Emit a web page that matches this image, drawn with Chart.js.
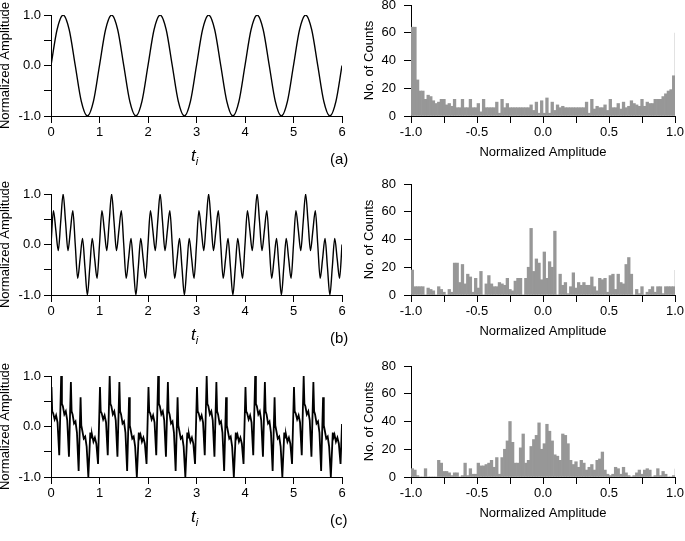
<!DOCTYPE html>
<html lang="en">
<head>
<meta charset="UTF-8">
<title>Signals and amplitude histograms</title>
<style>
  html, body { margin: 0; padding: 0; width: 685px; height: 541px; overflow: hidden; background: #fff; }
  canvas { position: absolute; }
  .lbl { position: absolute; font-family: 'Liberation Sans', Arial, sans-serif; color: #000; white-space: nowrap; }
  .ti { font-size: 17px; font-style: italic; }
  .ti sub { font-size: 11px; }
  .tag { font-size: 15px; }
</style>
</head>
<body>
<canvas id="sigA"></canvas>
<canvas id="histA"></canvas>
<canvas id="sigB"></canvas>
<canvas id="histB"></canvas>
<canvas id="sigC"></canvas>
<canvas id="histC"></canvas>

<div class="lbl ti" style="left:191px;top:146px">t<sub>i</sub></div>
<div class="lbl ti" style="left:191px;top:325px">t<sub>i</sub></div>
<div class="lbl ti" style="left:191px;top:507px">t<sub>i</sub></div>
<div class="lbl tag" style="left:330px;top:150px">(a)</div>
<div class="lbl tag" style="left:330px;top:329px">(b)</div>
<div class="lbl tag" style="left:330px;top:511px">(c)</div>

<script src="https://cdn.jsdelivr.net/npm/chart.js@4/dist/chart.umd.min.js"></script>
<script>
    // ---- (a) pure sine ----
    const tA = [0, 0.125, 0.25, 0.375, 0.5, 0.625, 0.75, 0.875,
        1, 1.125, 1.25, 1.375, 1.5, 1.625, 1.75, 1.875,
        2, 2.125, 2.25, 2.375, 2.5, 2.625, 2.75, 2.875,
        3, 3.125, 3.25, 3.375, 3.5, 3.625, 3.75, 3.875,
        4, 4.125, 4.25, 4.375, 4.5, 4.625, 4.75, 4.875,
        5, 5.125, 5.25, 5.375, 5.5, 5.625, 5.75, 5.875,
        6];
    const ampA = [0, 0.71, 1, 0.71, 0, -0.71, -1, -0.71,
        0, 0.71, 1, 0.71, 0, -0.71, -1, -0.71,
        0, 0.71, 1, 0.71, 0, -0.71, -1, -0.71,
        0, 0.71, 1, 0.71, 0, -0.71, -1, -0.71,
        0, 0.71, 1, 0.71, 0, -0.71, -1, -0.71,
        0, 0.71, 1, 0.71, 0, -0.71, -1, -0.71,
        0];

    // ---- (b) two tones ----
    const tB = [0, 0.05, 0.1, 0.15, 0.2, 0.25, 0.3, 0.35, 0.4, 0.45, 0.5, 0.55, 0.6, 0.65, 0.7, 0.75, 0.8, 0.85, 0.9, 0.95,
        1, 1.05, 1.1, 1.15, 1.2, 1.25, 1.3, 1.35, 1.4, 1.45, 1.5, 1.55, 1.6, 1.65, 1.7, 1.75, 1.8, 1.85, 1.9, 1.95,
        2, 2.05, 2.1, 2.15, 2.2, 2.25, 2.3, 2.35, 2.4, 2.45, 2.5, 2.55, 2.6, 2.65, 2.7, 2.75, 2.8, 2.85, 2.9, 2.95,
        3, 3.05, 3.1, 3.15, 3.2, 3.25, 3.3, 3.35, 3.4, 3.45, 3.5, 3.55, 3.6, 3.65, 3.7, 3.75, 3.8, 3.85, 3.9, 3.95,
        4, 4.05, 4.1, 4.15, 4.2, 4.25, 4.3, 4.35, 4.4, 4.45, 4.5, 4.55, 4.6, 4.65, 4.7, 4.75, 4.8, 4.85, 4.9, 4.95,
        5, 5.05, 5.1, 5.15, 5.2, 5.25, 5.3, 5.35, 5.4, 5.45, 5.5, 5.55, 5.6, 5.65, 5.7, 5.75, 5.8, 5.85, 5.9, 5.95,
        6];
    const ampB = [0, 0.67, 0.28, -0.12, 0.45, 1, 0.45, -0.12, 0.28, 0.67, 0, -0.67, -0.28, 0.12, -0.45, -1, -0.45, 0.12, -0.28, -0.67,
        0, 0.67, 0.28, -0.12, 0.45, 1, 0.45, -0.12, 0.28, 0.67, 0, -0.67, -0.28, 0.12, -0.45, -1, -0.45, 0.12, -0.28, -0.67,
        0, 0.67, 0.28, -0.12, 0.45, 1, 0.45, -0.12, 0.28, 0.67, 0, -0.67, -0.28, 0.12, -0.45, -1, -0.45, 0.12, -0.28, -0.67,
        0, 0.67, 0.28, -0.12, 0.45, 1, 0.45, -0.12, 0.28, 0.67, 0, -0.67, -0.28, 0.12, -0.45, -1, -0.45, 0.12, -0.28, -0.67,
        0, 0.67, 0.28, -0.12, 0.45, 1, 0.45, -0.12, 0.28, 0.67, 0, -0.67, -0.28, 0.12, -0.45, -1, -0.45, 0.12, -0.28, -0.67,
        0, 0.67, 0.28, -0.12, 0.45, 1, 0.45, -0.12, 0.28, 0.67, 0, -0.67, -0.28, 0.12, -0.45, -1, -0.45, 0.12, -0.28, -0.67,
        0];

    // ---- (c) spiky signal ----
    const tC = [0,
        0.01, 0.025, 0.045, 0.075, 0.105, 0.135, 0.17, 0.21, 0.225, 0.245, 0.275, 0.305, 0.335, 0.37, 0.41, 0.425, 0.445, 0.475, 0.505, 0.535, 0.57, 0.61, 0.625, 0.645, 0.675, 0.705, 0.735, 0.77, 0.81, 0.825, 0.845, 0.875, 0.905, 0.935, 0.97,
        1.01, 1.025, 1.045, 1.075, 1.105, 1.135, 1.17, 1.21, 1.225, 1.245, 1.275, 1.305, 1.335, 1.37, 1.41, 1.425, 1.445, 1.475, 1.505, 1.535, 1.57, 1.61, 1.625, 1.645, 1.675, 1.705, 1.735, 1.77, 1.81, 1.825, 1.845, 1.875, 1.905, 1.935, 1.97,
        2.01, 2.025, 2.045, 2.075, 2.105, 2.135, 2.17, 2.21, 2.225, 2.245, 2.275, 2.305, 2.335, 2.37, 2.41, 2.425, 2.445, 2.475, 2.505, 2.535, 2.57, 2.61, 2.625, 2.645, 2.675, 2.705, 2.735, 2.77, 2.81, 2.825, 2.845, 2.875, 2.905, 2.935, 2.97,
        3.01, 3.025, 3.045, 3.075, 3.105, 3.135, 3.17, 3.21, 3.225, 3.245, 3.275, 3.305, 3.335, 3.37, 3.41, 3.425, 3.445, 3.475, 3.505, 3.535, 3.57, 3.61, 3.625, 3.645, 3.675, 3.705, 3.735, 3.77, 3.81, 3.825, 3.845, 3.875, 3.905, 3.935, 3.97,
        4.01, 4.025, 4.045, 4.075, 4.105, 4.135, 4.17, 4.21, 4.225, 4.245, 4.275, 4.305, 4.335, 4.37, 4.41, 4.425, 4.445, 4.475, 4.505, 4.535, 4.57, 4.61, 4.625, 4.645, 4.675, 4.705, 4.735, 4.77, 4.81, 4.825, 4.845, 4.875, 4.905, 4.935, 4.97,
        5.01, 5.025, 5.045, 5.075, 5.105, 5.135, 5.17, 5.21, 5.225, 5.245, 5.275, 5.305, 5.335, 5.37, 5.41, 5.425, 5.445, 5.475, 5.505, 5.535, 5.57, 5.61, 5.625, 5.645, 5.675, 5.705, 5.735, 5.77, 5.81, 5.825, 5.845, 5.875, 5.905, 5.935, 5.97,
        6];
    const ampC = [0.72,
        0.78, 0.30, 0.26, 0.14, 0.22, 0.08, -0.57, 1.0, 0.45, 0.40, 0.24, 0.30, 0.12, -0.60, 0.88, 0.30, 0.24, 0.06, 0.10, -0.12, -0.88, 0.58, 0.02, -0.08, -0.24, -0.20, -0.40, -1.0, -0.12, -0.22, -0.16, -0.30, -0.22, -0.34, -0.74,
        0.78, 0.30, 0.26, 0.14, 0.22, 0.08, -0.57, 1.0, 0.45, 0.40, 0.24, 0.30, 0.12, -0.60, 0.88, 0.30, 0.24, 0.06, 0.10, -0.12, -0.88, 0.58, 0.02, -0.08, -0.24, -0.20, -0.40, -1.0, -0.12, -0.22, -0.16, -0.30, -0.22, -0.34, -0.74,
        0.78, 0.30, 0.26, 0.14, 0.22, 0.08, -0.57, 1.0, 0.45, 0.40, 0.24, 0.30, 0.12, -0.60, 0.88, 0.30, 0.24, 0.06, 0.10, -0.12, -0.88, 0.58, 0.02, -0.08, -0.24, -0.20, -0.40, -1.0, -0.12, -0.22, -0.16, -0.30, -0.22, -0.34, -0.74,
        0.78, 0.30, 0.26, 0.14, 0.22, 0.08, -0.57, 1.0, 0.45, 0.40, 0.24, 0.30, 0.12, -0.60, 0.88, 0.30, 0.24, 0.06, 0.10, -0.12, -0.88, 0.58, 0.02, -0.08, -0.24, -0.20, -0.40, -1.0, -0.12, -0.22, -0.16, -0.30, -0.22, -0.34, -0.74,
        0.78, 0.30, 0.26, 0.14, 0.22, 0.08, -0.57, 1.0, 0.45, 0.40, 0.24, 0.30, 0.12, -0.60, 0.88, 0.30, 0.24, 0.06, 0.10, -0.12, -0.88, 0.58, 0.02, -0.08, -0.24, -0.20, -0.40, -1.0, -0.12, -0.22, -0.16, -0.30, -0.22, -0.34, -0.74,
        0.78, 0.30, 0.26, 0.14, 0.22, 0.08, -0.57, 1.0, 0.45, 0.40, 0.24, 0.30, 0.12, -0.60, 0.88, 0.30, 0.24, 0.06, 0.10, -0.12, -0.88, 0.58, 0.02, -0.08, -0.24, -0.20, -0.40, -1.0, -0.12, -0.22, -0.16, -0.30, -0.22, -0.34, -0.74,
        0.05];

    // ---- histograms: 100 bins of width 0.02 from -1 to 1 ----
    const binLo = -1;
    const binW = 0.02;
    const countsA = [64, 64, 26, 18, 18, 12, 15, 14, 11, 9, 10, 12, 12, 8, 9, 7, 12, 6, 6, 12,
        6, 6, 12, 6, 6, 9, 3, 12, 6, 6, 6, 6, 10, 2, 12, 6, 9, 6, 6, 6,
        6, 6, 6, 6, 6, 8, 4, 10, 2, 11, 2, 13, 2, 10, 4, 8, 6, 7, 6, 6,
        6, 6, 6, 6, 6, 6, 10, 2, 12, 5, 7, 6, 6, 8, 4, 12, 6, 6, 9, 5,
        10, 6, 7, 11, 9, 8, 7, 12, 7, 10, 9, 9, 12, 12, 12, 14, 16, 18, 19, 29];
    const countsB = [18, 6, 6, 6, 6, 0, 5, 4, 3, 0, 6, 4, 2, 0, 4, 2, 23, 23, 9, 22,
        8, 15, 13, 2, 12, 5, 17, 0, 8, 14, 8, 6, 6, 9, 8, 7, 12, 4, 3, 10,
        12, 12, 0, 12, 20, 48, 17, 26, 23, 11, 31, 12, 24, 20, 46, 0, 15, 7, 9, 1,
        6, 16, 5, 9, 7, 9, 7, 7, 13, 6, 3, 12, 11, 12, 2, 14, 15, 4, 15, 9,
        8, 22, 27, 15, 0, 4, 1, 6, 0, 2, 4, 6, 2, 6, 6, 1, 6, 6, 6, 6];
    const countsC = [6, 5, 1, 0, 0, 6, 0, 0, 0, 0, 12, 10, 4, 4, 3, 1, 3, 3, 0, 1,
        10, 1, 6, 2, 2, 10, 8, 8, 9, 10, 12, 7, 14, 2, 14, 20, 26, 40, 25, 10,
        10, 21, 31, 10, 12, 22, 27, 30, 39, 20, 24, 38, 33, 26, 16, 15, 12, 31, 30, 24,
        12, 9, 11, 7, 12, 10, 5, 7, 9, 5, 12, 13, 18, 5, 2, 1, 2, 7, 6, 2,
        7, 3, 1, 0, 1, 3, 5, 2, 5, 6, 5, 0, 1, 6, 1, 4, 2, 0, 0, 1];
    // counts sitting exactly on +1.0 (thin line at the edge)
    const edgeA = 60, edgeB = 18, edgeC = 6;

    Chart.defaults.font.family = "'Liberation Sans', Arial, sans-serif";
    Chart.defaults.font.size = 13;
    Chart.defaults.color = '#000';

    // pin axis box sizes so that the plot areas land where the figure has them
    function pin(w, h) {
        return (s) => {
            if (w != null) s.width = w;
            if (h != null) s.height = h;
            s.paddingLeft = 0; s.paddingRight = 0; s.paddingTop = 0; s.paddingBottom = 0;
        };
    }

    function place(cv, left, top, w, h) {
        cv.width = w; cv.height = h;
        cv.style.left = left + 'px'; cv.style.top = top + 'px';
        cv.style.width = w + 'px'; cv.style.height = h + 'px';
    }

    const axisGrid = { drawOnChartArea: false, drawTicks: true, tickLength: 7, color: '#000', lineWidth: 1 };
    const axisBorder = { display: true, color: '#000', width: 1 };

    function signalChart(id, top, bottom, t, amp, smooth, lw) {
        const cv = document.getElementById(id);
        const padTop = 30;
        const ctop = top - padTop;
        place(cv, -2, ctop, 356, bottom + 30 - ctop);
        return new Chart(cv, {
            type: 'line',
            data: {
                datasets: [{
                    data: t.map((x, i) => ({ x: x, y: amp[i] })),
                    borderColor: '#000',
                    borderWidth: lw,
                    pointRadius: 0,
                    tension: 0,
                    cubicInterpolationMode: smooth ? 'monotone' : 'default'
                }]
            },
            options: {
                responsive: false, animation: false, devicePixelRatio: 1,
                layout: { padding: { left: 0, right: 12, top: padTop, bottom: 0 } },
                plugins: { legend: { display: false }, tooltip: { enabled: false } },
                scales: {
                    x: {
                        type: 'linear', min: 0, max: 6,
                        afterFit: pin(null, 30),
                        ticks: { stepSize: 1, padding: 2, maxRotation: 0 },
                        grid: axisGrid, border: axisBorder
                    },
                    y: {
                        type: 'linear', min: -1, max: 1,
                        afterFit: pin(53, null),
                        ticks: {
                            stepSize: 0.5, padding: 3,
                            callback: (v) => Math.abs(v % 1) < 1e-9 ? v.toFixed(1) : ''
                        },
                        title: { display: true, text: 'Normalized Amplitude', padding: 0 },
                        grid: axisGrid, border: axisBorder
                    }
                }
            }
        });
    }

    function histChart(id, top, bottom, counts, edge) {
        const cv = document.getElementById(id);
        const ctop = top - 8;
        place(cv, 362, ctop, 323, bottom + 44 - ctop);
        return new Chart(cv, {
            type: 'bar',
            data: {
                datasets: [{
                    data: counts.map((c, i) => ({ x: binLo + binW * (i + 0.5), y: c })),
                    backgroundColor: '#979797',
                    borderWidth: 0,
                    barPercentage: 1,
                    categoryPercentage: 1
                }, {
                    type: 'line',
                    data: [{ x: 1, y: 0 }, { x: 1, y: edge }],
                    borderColor: '#c4c4c4',
                    borderWidth: 1,
                    pointRadius: 0
                }]
            },
            options: {
                responsive: false, animation: false, devicePixelRatio: 1,
                layout: { padding: { left: 0, right: 10, top: 8, bottom: 0 } },
                plugins: { legend: { display: false }, tooltip: { enabled: false } },
                scales: {
                    x: {
                        type: 'linear', min: -1, max: 1, offset: false,
                        afterFit: pin(null, 44),
                        ticks: {
                            stepSize: 0.25, padding: 2, maxRotation: 0,
                            callback: (v) => Math.abs((v * 2) % 1) < 1e-9 ? v.toFixed(1) : ''
                        },
                        title: { display: true, text: 'Normalized Amplitude', padding: 0 },
                        grid: Object.assign({ offset: false }, axisGrid), border: axisBorder
                    },
                    y: {
                        type: 'linear', min: 0, max: 80,
                        afterFit: pin(49, null),
                        ticks: {
                            stepSize: 10, padding: 8,
                            callback: (v) => v % 20 === 0 ? String(v) : ''
                        },
                        title: { display: true, text: 'No. of Counts', padding: 0 },
                        grid: axisGrid, border: axisBorder
                    }
                }
            }
        });
    }

    signalChart('sigA', 15, 116, tA, ampA, true, 1.4);
    signalChart('sigB', 194, 295, tB, ampB, true, 1.4);
    signalChart('sigC', 376, 477, tC, ampC, false, 1.8);
    histChart('histA', 5, 116, countsA, edgeA);
    histChart('histB', 184, 295, countsB, edgeB);
    histChart('histC', 366, 477, countsC, edgeC);
</script>
</body>
</html>
